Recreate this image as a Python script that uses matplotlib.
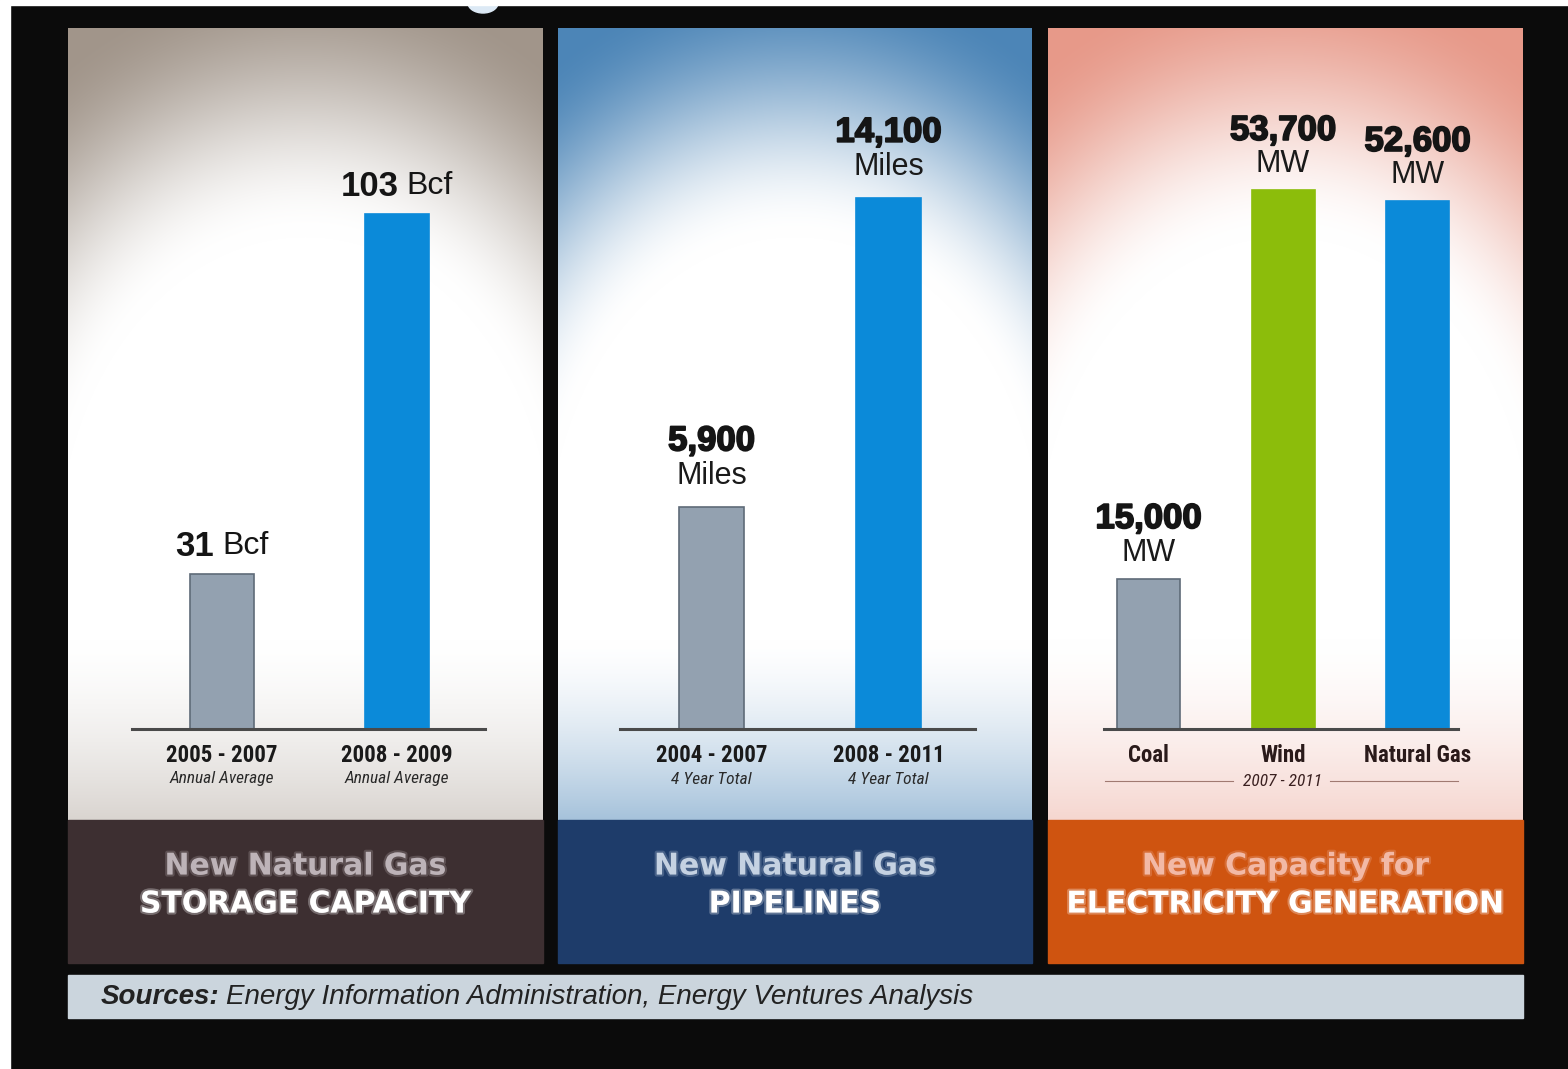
import numpy as np
import matplotlib
matplotlib.use('Agg')
import matplotlib.pyplot as plt
from matplotlib import patheffects as pe
from matplotlib import font_manager as fm
from matplotlib.patches import Rectangle, Ellipse

# ---- data ----
storage_cats = ['2005 - 2007', '2008 - 2009']
storage_notes = ['Annual Average', 'Annual Average']
storage_vals = [31, 103]
storage_unit = 'Bcf'

pipe_cats = ['2004 - 2007', '2008 - 2011']
pipe_notes = ['4 Year Total', '4 Year Total']
pipe_vals = [5900, 14100]
pipe_unit = 'Miles'

power_cats = ['Coal', 'Wind', 'Natural Gas']
power_note = '2007 - 2011'
power_vals = [15000, 53700, 52600]
power_unit = 'MW'

title_top = ['New Natural Gas', 'New Natural Gas', 'New Capacity for']
title_main = ['STORAGE CAPACITY', 'PIPELINES', 'ELECTRICITY GENERATION']
source_lead = 'Sources:'
source_rest = 'Energy Information Administration, Energy Ventures Analysis'

# ---- layout (pixels) ----
W, H = 1568, 1069
panel_x = [(68, 543), (558, 1032), (1048, 1523)]
chart_top, foot_top, foot_bot = 28, 820, 963
base_y, ax_top = 729, 40

GRAY, GRAY_EDGE = '#93a1b0', '#5f6b78'
BLUE, GREEN = '#0b8ad9', '#8cbd0b'
ARIAL = ['Liberation Sans', 'DejaVu Sans']
HEAVY = [pe.withStroke(linewidth=1.3, foreground='#151515')]


def narrow_font(bold, italic, size):
    # look for any condensed / narrow face that happens to be installed
    pref = ['liberation sans narrow', 'roboto condensed', 'dejavu sans condensed', 'open sans condensed']
    hits = []
    for f in fm.fontManager.ttflist:
        nm = f.name.lower()
        st = str(f.stretch).lower()
        if not ('narrow' in nm or 'condensed' in nm or 'condensed' in st):
            continue
        w = f.weight if isinstance(f.weight, int) else (700 if 'bold' in str(f.weight) else 400)
        if (w >= 600) != bold:
            continue
        if (f.style in ('italic', 'oblique')) != italic:
            continue
        rank = pref.index(nm) if nm in pref else len(pref)
        hits.append((rank, f.fname))
    if hits:
        hits.sort()
        return fm.FontProperties(fname=hits[0][1], size=size), True
    return fm.FontProperties(family='Liberation Sans', weight='bold' if bold else 'normal',
                             style='italic' if italic else 'normal', size=size * 0.84), False


cat_fp, cat_narrow = narrow_font(True, False, 16.5)
note_fp, _ = narrow_font(False, True, 12.5)

fig = plt.figure(figsize=(W / 100, H / 100), dpi=100, facecolor='#0b0b0b')
bg = fig.add_axes([0, 0, 1, 1])
bg.set_facecolor('#0b0b0b')


def glow(x0, x1, edge, bottom_tint):
    xs = np.arange(x0, x1) + 0.5
    ys = np.arange(chart_top, foot_top) + 0.5
    X, Y = np.meshgrid(xs, ys)
    cx, cy = (x0 + x1) / 2, 560
    r = np.sqrt(((X - cx) / 330) ** 2 + ((Y - cy) / 430) ** 2)
    f = np.clip((r - 0.75) / (1.38 - 0.75), 0, 1)
    f = f * f * (3 - 2 * f)
    g = np.clip((Y - 640) / 180, 0, 1) ** 1.5 * bottom_tint
    f = np.maximum(f, g)
    edge = np.array(matplotlib.colors.to_rgb(edge))
    img = 1 - f[..., None] * (1 - edge)
    bg.imshow(img, extent=(x0, x1, foot_top, chart_top), interpolation='bilinear', zorder=1)


edges = ['#a1958a', '#4c85b7', '#e79989']
tints = [0.4, 0.5, 0.4]
feet = ['#3d2f31', '#1e3c6a', '#cf5410']
top_cols = ['#bdb3b8', '#c5d2e2', '#f2b9a6']

for (x0, x1), ec, tn_, fc, tc, t1, t2 in zip(panel_x, edges, tints, feet, top_cols, title_top, title_main):
    glow(x0, x1, ec, tn_)
    bg.add_patch(Rectangle((x0, foot_top), x1 - x0, foot_bot - foot_top, color=fc, zorder=2))
    cx = (x0 + x1) / 2
    bg.text(cx, 866, t1, color=tc, fontsize=21.5, fontweight='bold', ha='center', va='center', zorder=3,
            path_effects=[pe.withStroke(linewidth=3, foreground=tc, alpha=0.25)])
    bg.text(cx, 904, t2, color='white', fontsize=21.5, fontweight='bold', ha='center', va='center', zorder=3,
            path_effects=[pe.withStroke(linewidth=3, foreground='white', alpha=0.3)])

# source band
bg.add_patch(Rectangle((68, 975), 1455, 43, color='#cbd5dd', zorder=2))
# white borders + bit of a button at the top
bg.add_patch(Rectangle((0, 0), W, 5, color='white', zorder=4))
bg.add_patch(Rectangle((0, 0), 10, H, color='white', zorder=4))
bg.add_patch(Ellipse((483, 3), 30, 20, color='#dce9f5', zorder=3))

bg.set_xlim(0, W)
bg.set_ylim(H, 0)
bg.set_aspect('auto')
bg.axis('off')


def bar_panel(ax_x0, ax_x1, centers, bar_w, px_per_unit, vals, colors):
    ax = fig.add_axes([ax_x0 / W, (H - base_y) / H, (ax_x1 - ax_x0) / W, (base_y - ax_top) / H])
    ax.patch.set_alpha(0)
    sp = centers[1] - centers[0]
    ax.set_xlim(-(centers[0] - ax_x0) / sp, (ax_x1 - centers[0]) / sp)
    ax.set_ylim(0, (base_y - ax_top) / px_per_unit)
    ax.bar(range(len(vals)), vals, width=bar_w / sp, color=colors,
           edgecolor=[GRAY_EDGE if c == GRAY else c for c in colors], linewidth=1.2, zorder=2)
    for s in ['top', 'left', 'right']:
        ax.spines[s].set_visible(False)
    ax.spines['bottom'].set_color('#4a4a4a')
    ax.spines['bottom'].set_linewidth(2.2)
    ax.spines['bottom'].set_zorder(3)
    ax.set_xticks([])
    ax.set_yticks([])
    return ax


def cat_labels(ax, cats, notes, col):
    for i, c in enumerate(cats):
        ax.annotate(c, (i, 0), xytext=(0, -27), textcoords='offset pixels', ha='center', va='center',
                    fontproperties=cat_fp, color=col, annotation_clip=False)
        if notes:
            ax.annotate(notes[i], (i, 0), xytext=(0, -50), textcoords='offset pixels', ha='center',
                        va='center', fontproperties=note_fp, color='#2a2a2a', annotation_clip=False)


# panel 1 - storage
ax1 = bar_panel(132, 485, [222, 397], 64, 5.0, storage_vals, [GRAY, BLUE])
fig.canvas.draw()
rend = fig.canvas.get_renderer()
for i, v in enumerate(storage_vals):
    tn = ax1.annotate(str(v), (i, v), xytext=(0, 28), textcoords='offset pixels', ha='right', va='center',
                      fontsize=25, fontweight='bold', family=ARIAL, color='#151515', annotation_clip=False)
    tu = ax1.annotate(storage_unit, (i, v), xytext=(0, 28), textcoords='offset pixels', ha='left', va='center',
                      fontsize=23, family=ARIAL, color='#151515', annotation_clip=False)
    wn = tn.get_window_extent(rend).width
    wu = tu.get_window_extent(rend).width
    gap = 8
    split = -(wn + gap + wu) / 2 + wn
    tn.xyann = (split, 28)
    tu.xyann = (split + gap, 28)
cat_labels(ax1, storage_cats, storage_notes, '#1a1a1a')

# panel 2 - pipelines
ax2 = bar_panel(620, 975, [711.5, 888.5], 65, 0.03764, pipe_vals, [GRAY, BLUE])
for i, v in enumerate(pipe_vals):
    ax2.annotate(f'{v:,}', (i, v), xytext=(0, 66), textcoords='offset pixels', ha='center', va='center',
                 fontsize=25, fontweight='bold', family=ARIAL, color='#151515', annotation_clip=False,
                 path_effects=HEAVY)
    ax2.annotate(pipe_unit, (i, v), xytext=(0, 31), textcoords='offset pixels', ha='center', va='center',
                 fontsize=22, family=ARIAL, color='#1a1a1a', annotation_clip=False)
cat_labels(ax2, pipe_cats, pipe_notes, '#1a1a1a')

# panel 3 - power
ax3 = bar_panel(1104, 1458, [1148.5, 1283, 1417.5], 63, 0.01003, power_vals, [GRAY, GREEN, BLUE])
for i, v in enumerate(power_vals):
    ax3.annotate(f'{v:,}', (i, v), xytext=(0, 60), textcoords='offset pixels', ha='center', va='center',
                 fontsize=25, fontweight='bold', family=ARIAL, color='#151515', annotation_clip=False,
                 path_effects=HEAVY)
    ax3.annotate(power_unit, (i, v), xytext=(0, 26), textcoords='offset pixels', ha='center', va='center',
                 fontsize=22, family=ARIAL, color='#1a1a1a', annotation_clip=False)
cat_labels(ax3, power_cats, None, '#2a1a1a')
ax3.annotate(power_note, (1, 0), xytext=(0, -52), textcoords='offset pixels', ha='center', va='center',
             fontproperties=note_fp, color='#3a2020', annotation_clip=False)
bg.plot([1105, 1233], [781, 781], color='#a07a72', lw=0.8, zorder=5)
bg.plot([1330, 1458], [781, 781], color='#a07a72', lw=0.8, zorder=5)

# source line, sized so it runs to the same length as in the original
src_fs = 17
ts = bg.text(101, 997, source_lead, fontsize=src_fs, fontweight='bold', fontstyle='italic', family=ARIAL,
             color='#222222', ha='left', va='center', zorder=5)
tr = bg.text(101, 997, source_rest, fontsize=src_fs, fontstyle='italic', family=ARIAL,
             color='#222222', ha='left', va='center', zorder=5)
fig.canvas.draw()
rend = fig.canvas.get_renderer()
total = ts.get_window_extent(rend).width + 6 + tr.get_window_extent(rend).width
src_fs = min(src_fs * 882 / total, 20)
ts.set_fontsize(src_fs)
tr.set_fontsize(src_fs)
fig.canvas.draw()
w_lead = ts.get_window_extent(fig.canvas.get_renderer()).width
tr.set_x(101 + w_lead + 6)

fig.savefig('out.png', dpi=100, facecolor=fig.get_facecolor())
